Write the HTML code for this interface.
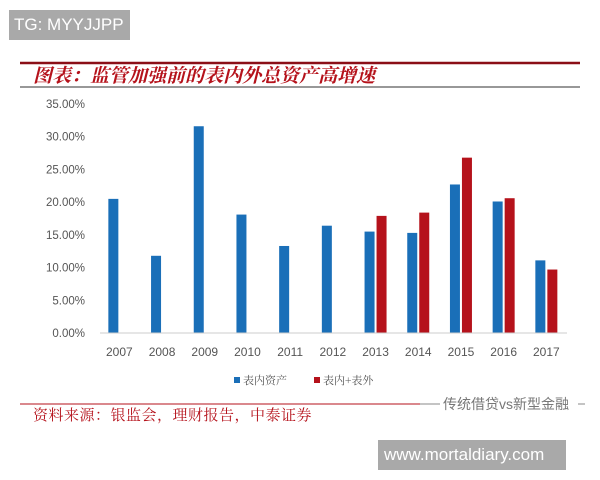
<!DOCTYPE html>
<html><head><meta charset="utf-8">
<style>
body{margin:0;width:600px;height:480px;background:#fff;overflow:hidden;position:relative;font-family:"Liberation Sans","Noto Sans CJK SC",sans-serif;}
#wm1{position:absolute;left:9px;top:10px;width:121px;height:30px;background:#a9a9a9;color:#fff;font-size:17px;line-height:30px;padding-left:5px;box-sizing:border-box;}
#wm2{position:absolute;left:378px;top:440px;width:188px;height:30px;background:#a9a9a9;color:#fff;font-size:17px;line-height:30px;padding-left:6px;box-sizing:border-box;white-space:nowrap;}
svg{position:absolute;left:0;top:0;}
</style></head><body>
<svg id="chart" width="600" height="480">
<line x1="20" y1="63" x2="580" y2="63" stroke="#8b0f17" stroke-width="2.5"/>
<text x="33" y="82" font-size="19" fill="#b5121b" font-style="italic" font-family="Noto Serif CJK SC, serif" font-weight="bold">图表：监管加强前的表内外总资产高增速</text>
<line x1="20" y1="87" x2="580" y2="87" stroke="#777" stroke-width="1.5"/>
<g id="yaxis"></g>
<g id="bars"></g>
<g id="xaxis"></g>
<g>
<rect x="234" y="377" width="6" height="6" fill="#1a6fb8"/>
<text x="243" y="384" font-size="11" fill="#555" font-family="Noto Serif CJK SC, serif">表内资产</text>
<rect x="314" y="377" width="6" height="6" fill="#b5121b"/>
<text x="323" y="384" font-size="11" fill="#555" font-family="Noto Serif CJK SC, serif">表内+表外</text>
</g>
<line x1="20" y1="404" x2="420" y2="404" stroke="#b5121b" stroke-width="1"/>
<line x1="420" y1="404" x2="585" y2="404" stroke="#888" stroke-width="1"/>
<rect x="440" y="396" width="138" height="16" fill="#fff"/>
<text x="443" y="409" font-size="14" fill="#777">传统借贷vs新型金融</text>
<text x="33" y="420" font-size="15" fill="#b5121b" letter-spacing="0.5" font-family="Noto Serif CJK SC, serif">资料来源：银监会，理财报告，中泰证券</text>
</svg>
<div id="wm1">TG: MYYJJPP</div>
<div id="wm2">www.mortaldiary.com</div>
<script>
const categories=["2007","2008","2009","2010","2011","2012","2013","2014","2015","2016","2017"];
const onBalance=[20.5,11.8,31.6,18.1,13.3,16.4,15.5,15.3,22.7,20.1,11.1];
const total=[null,null,null,null,null,null,17.9,18.4,26.8,20.6,9.7];
const yTicks=[0,5,10,15,20,25,30,35];
const NS="http://www.w3.org/2000/svg";
const y0=333,yTop=104,yMax=35;
function y(v){return y0-(v/yMax)*(y0-yTop);}
const xStart=98,band=42.7;
function xc(i){return xStart+band*(i+0.5);}
function mk(tag,attrs,parent){const e=document.createElementNS(NS,tag);for(const k in attrs)e.setAttribute(k,attrs[k]);parent.appendChild(e);return e;}
const ya=document.getElementById('yaxis'),ba=document.getElementById('bars'),xa=document.getElementById('xaxis');
yTicks.forEach(t=>{const e=mk('text',{x:85,y:y(t)+4,'font-size':11.5,fill:'#555','text-anchor':'end'},ya);e.textContent=t.toFixed(2)+'%';

});
const ax=mk('line',{x1:100,y1:y0,x2:567,y2:y0,stroke:'#ccc','stroke-width':1},xa);


categories.forEach((c,i)=>{
const t=mk('text',{x:xc(i),y:356,'font-size':12,fill:'#555','text-anchor':'middle'},xa);t.textContent=c;


const b=mk('rect',{x:xc(i)-11,y:y(onBalance[i]),width:10,height:y0-y(onBalance[i]),fill:'#1a6fb8'},ba);


if(total[i]!=null){const r=mk('rect',{x:xc(i)+1,y:y(total[i]),width:10,height:y0-y(total[i]),fill:'#b5121b'},ba);

}
});
</script>
</body></html>
